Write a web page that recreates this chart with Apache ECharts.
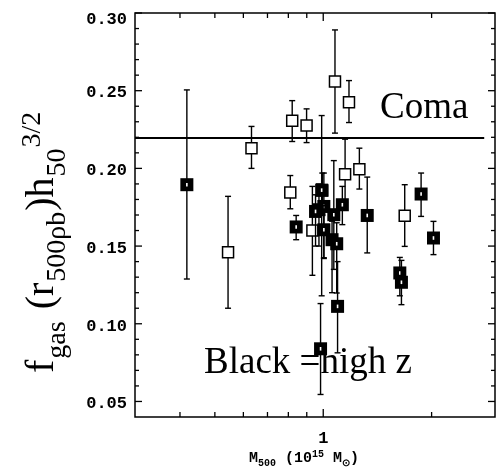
<!DOCTYPE html>
<html>
<head>
<meta charset="utf-8">
<script src="https://cdn.jsdelivr.net/npm/echarts@6/dist/echarts.min.js"></script>
<style>
  html, body { margin: 0; padding: 0; background: #fff; }
  #chart { width: 498px; height: 474px; }
</style>
</head>
<body>
<div id="chart"></div>
<script>
// Gas mass fraction within r500 against cluster mass M500 (log scale)

const massRange = [0.3, 3];
const fgasRange = [0.04, 0.30];

// Coma reference level
const comaLevel = 0.2195;
const comaSpan = [0.3, 2.8];

// Low-redshift clusters (open squares)
const lowZMass = [0.544, 0.632, 0.810, 0.820, 0.899, 0.933, 0.994, 1.078, 1.150, 1.179, 1.260, 1.684];
const lowZFgas = [0.146, 0.213, 0.1845, 0.2306, 0.2276, 0.160, 0.1858, 0.2559, 0.1963, 0.2426, 0.1995, 0.1695];
const lowZLow  = [0.110, 0.200, 0.174, 0.2173, 0.2166, 0.1312, 0.170, 0.2227, 0.178, 0.2295, 0.1867, 0.1498];
const lowZHigh = [0.182, 0.227, 0.1954, 0.2436, 0.2383, 0.1884, 0.197, 0.2891, 0.2188, 0.2565, 0.213, 0.1895];

// High-redshift clusters (filled squares)
const highZMass = [0.418, 0.841, 0.990, 0.973, 1.004, 1.070, 0.952, 1.004, 1.058, 1.090, 1.130, 1.096, 0.983, 1.325, 1.632, 1.649, 1.870, 2.024];
const highZFgas = [0.1895, 0.1623, 0.186, 0.1734, 0.1755, 0.1702, 0.1723, 0.1605, 0.1541, 0.1515, 0.1766, 0.1112, 0.0839, 0.1697, 0.1327, 0.1267, 0.1835, 0.1552];
const highZLow  = [0.1288, 0.1541, 0.118, 0.150, 0.142, 0.135, 0.150, 0.1425, 0.120, 0.1198, 0.1638, 0.0813, 0.0545, 0.1456, 0.118, 0.1123, 0.1691, 0.1445];
const highZHigh = [0.2505, 0.1697, 0.234, 0.190, 0.197, 0.205, 0.183, 0.176, 0.166, 0.165, 0.1884, 0.140, 0.113, 0.1944, 0.1427, 0.1408, 0.197, 0.1659];

// Axis ticks
const xMinorTicks = [0.4, 0.5, 0.6, 0.7, 0.8, 0.9, 2];
const xMajorTicks = [1];
const xLabelValues = [1];
const yMinorTicks = [0.06, 0.07, 0.08, 0.09, 0.11, 0.12, 0.13, 0.14, 0.16, 0.17, 0.18, 0.19,
                     0.21, 0.22, 0.23, 0.24, 0.26, 0.27, 0.28, 0.29];
const yMajorTicks = [0.05, 0.10, 0.15, 0.20, 0.25, 0.30];

function rows(a, b, c, d) { return a.map((v, i) => [v, b[i], c[i], d[i]]); }

const chart = echarts.init(document.getElementById('chart'), null, { renderer: 'canvas' });

const measureCtx = document.createElement('canvas').getContext('2d');

// Lay out a run of text pieces (main / sub / superscript) along a baseline
function textRun(pieces, family, weight) {
  let adv = 0;
  const kids = [];
  pieces.forEach(p => {
    const font = weight + ' ' + p.size + 'px "' + family + '"';
    measureCtx.font = font;
    kids.push({
      type: 'text',
      x: adv,
      y: (p.dy || 0) - 0.3 * p.size,
      style: {
        text: p.t, fill: '#000', fontFamily: family, fontSize: p.size, fontWeight: weight,
        align: 'left', verticalAlign: 'middle'
      },
      silent: true
    });
    adv += measureCtx.measureText(p.t).width + (p.gap || 0);
  });
  return kids;
}

function markRenderer(filled) {
  return function (params, api) {
    const m = api.value(0), f = api.value(1), lo = api.value(2), hi = api.value(3);
    const c = api.coord([m, f]);
    const a = api.coord([m, lo]);
    const b = api.coord([m, hi]);
    const cap = 3;
    const st = { stroke: '#000', lineWidth: 1.4 };
    const kids = [
      { type: 'line', shape: { x1: c[0], y1: a[1], x2: c[0], y2: b[1] }, style: st },
      { type: 'line', shape: { x1: c[0] - cap, y1: a[1], x2: c[0] + cap, y2: a[1] }, style: st },
      { type: 'line', shape: { x1: c[0] - cap, y1: b[1], x2: c[0] + cap, y2: b[1] }, style: st }
    ];
    if (filled) {
      kids.push({ type: 'rect', shape: { x: c[0] - 6.5, y: c[1] - 6.5, width: 13, height: 13 }, style: { fill: '#000' } });
      kids.push({ type: 'rect', shape: { x: c[0] - 0.8, y: c[1] - 1.8, width: 1.6, height: 3.6 }, style: { fill: '#fff' } });
    } else {
      kids.push({ type: 'rect', shape: { x: c[0] - 5.5, y: c[1] - 5.5, width: 11, height: 11 }, style: { fill: '#fff', stroke: '#000', lineWidth: 1.5 } });
    }
    return { type: 'group', children: kids };
  };
}

function xTickRenderer(len) {
  return function (params, api) {
    const cs = params.coordSys;
    const p = api.coord([api.value(0), fgasRange[0]]);
    const st = { stroke: '#000', lineWidth: 1.3 };
    return { type: 'group', children: [
      { type: 'line', shape: { x1: p[0], y1: cs.y + cs.height, x2: p[0], y2: cs.y + cs.height - len }, style: st },
      { type: 'line', shape: { x1: p[0], y1: cs.y, x2: p[0], y2: cs.y + len }, style: st }
    ] };
  };
}

function yTickRenderer(len) {
  return function (params, api) {
    const cs = params.coordSys;
    const p = api.coord([massRange[0], api.value(1)]);
    const st = { stroke: '#000', lineWidth: 1.3 };
    return { type: 'group', children: [
      { type: 'line', shape: { x1: cs.x, y1: p[1], x2: cs.x + len, y2: p[1] }, style: st },
      { type: 'line', shape: { x1: cs.x + cs.width, y1: p[1], x2: cs.x + cs.width - len, y2: p[1] }, style: st }
    ] };
  };
}

const tickFont = 'Liberation Mono';

const option = {
  animation: false,
  backgroundColor: '#fff',
  grid: { left: 135, top: 13, right: -2, bottom: 57, show: true, borderColor: '#000', borderWidth: 1.5, backgroundColor: 'transparent' },
  xAxis: {
    type: 'log', logBase: 10, min: massRange[0], max: massRange[1],
    axisLine: { show: false }, axisTick: { show: false }, splitLine: { show: false },
    axisLabel: {
      margin: 13, color: '#000', fontFamily: tickFont, fontWeight: 'bold', fontSize: 17,
      formatter: v => xLabelValues.some(t => Math.abs(t - v) < 1e-9) ? String(Math.round(v)) : ''
    }
  },
  yAxis: {
    type: 'value', min: fgasRange[0], max: fgasRange[1], interval: 0.01,
    axisLine: { show: false }, axisTick: { show: false }, splitLine: { show: false },
    axisLabel: {
      margin: 8, color: '#000', fontFamily: tickFont, fontWeight: 'bold', fontSize: 17,
      formatter: v => {
        const hit = yMajorTicks.find(t => Math.abs(t - v) < 1e-9);
        if (hit === undefined) return '';
        return (hit === fgasRange[1] ? '{t|' : '{n|') + hit.toFixed(2) + '}';
      },
      rich: {
        t: { fontFamily: tickFont, fontWeight: 'bold', fontSize: 17, padding: [14, 0, 0, 0] },
        n: { fontFamily: tickFont, fontWeight: 'bold', fontSize: 17, padding: [5, 0, 0, 0] }
      }
    }
  },
  series: [
    { type: 'custom', silent: true, clip: false, encode: { x: 0, y: 1 },
      data: xMinorTicks.map(v => [v, fgasRange[0]]), renderItem: xTickRenderer(5) },
    { type: 'custom', silent: true, clip: false, encode: { x: 0, y: 1 },
      data: xMajorTicks.map(v => [v, fgasRange[0]]), renderItem: xTickRenderer(8) },
    { type: 'custom', silent: true, clip: false, encode: { x: 0, y: 1 },
      data: yMinorTicks.map(v => [massRange[0], v]), renderItem: yTickRenderer(4) },
    { type: 'custom', silent: true, clip: false, encode: { x: 0, y: 1 },
      data: yMajorTicks.map(v => [massRange[0], v]), renderItem: yTickRenderer(7) },
    { type: 'line', silent: true, symbol: 'none',
      data: comaSpan.map(m => [m, comaLevel]), lineStyle: { color: '#000', width: 2 } },
    { type: 'custom', silent: true, encode: { x: 0, y: 1 },
      data: rows(lowZMass, lowZFgas, lowZLow, lowZHigh), renderItem: markRenderer(false) },
    { type: 'custom', silent: true, encode: { x: 0, y: 1 },
      data: rows(highZMass, highZFgas, highZLow, highZHigh), renderItem: markRenderer(true) }
  ],
  graphic: [
    { type: 'group', x: 380, y: 119, children: textRun([{ t: 'Coma', size: 37 }], 'Liberation Serif', 'normal') },
    { type: 'group', x: 204, y: 374, children: textRun([{ t: 'Black =high z', size: 37 }], 'Liberation Serif', 'normal') },
    { type: 'group', x: 54, y: 373, rotation: Math.PI / 2, children: textRun([
        { t: 'f', size: 40, gap: 1 },
        { t: 'gas', size: 28, dy: 12, gap: 2 },
        { t: ' (r', size: 40, gap: 1 },
        { t: '500ρb', size: 28, dy: 12, gap: 1 },
        { t: ')h', size: 40, gap: 1 },
        { t: '50', size: 28, dy: 12, gap: 1 },
        { t: '3/2', size: 28, dy: -13 }
      ], 'Liberation Serif', 'normal') },
    { type: 'group', x: 249, y: 463, children: textRun([
        { t: 'M', size: 15 },
        { t: '500', size: 10, dy: 3 },
        { t: ' (10', size: 15 },
        { t: '15', size: 10, dy: -6 },
        { t: ' M', size: 15 },
        { t: '⊙', size: 10, dy: 3 },
        { t: ')', size: 15 }
      ], 'Liberation Mono', 'bold') }
  ]
};

chart.setOption(option);
</script>
</body>
</html>
